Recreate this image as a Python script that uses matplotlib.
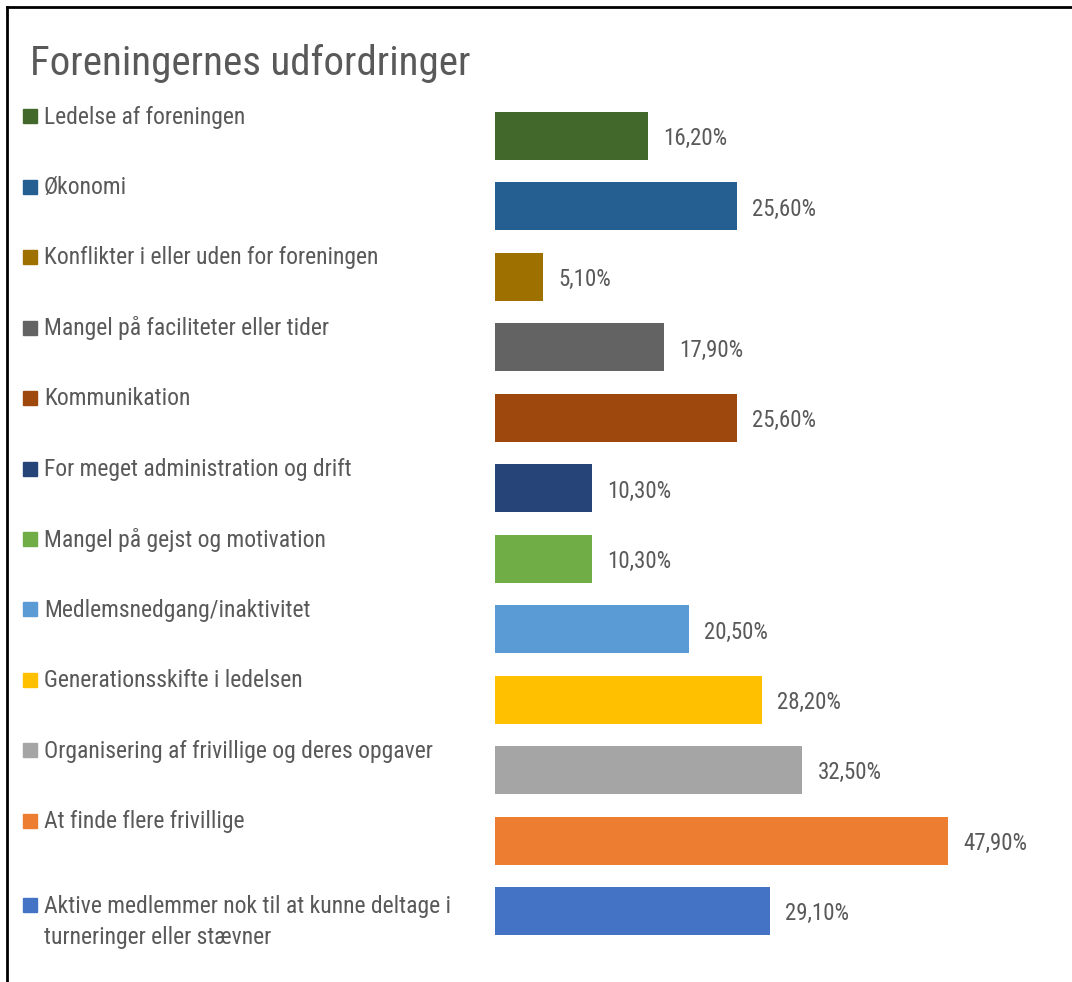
import matplotlib
matplotlib.use("Agg")
import matplotlib.pyplot as plt
import matplotlib.transforms as mtransforms

plt.rcParams['font.family'] = ['Roboto Condensed', 'Archivo Narrow', 'DejaVu Sans']

title = "Foreningernes udfordringer"
categories = [
    "Ledelse af foreningen",
    "Økonomi",
    "Konflikter i eller uden for foreningen",
    "Mangel på faciliteter eller tider",
    "Kommunikation",
    "For meget administration og drift",
    "Mangel på gejst og motivation",
    "Medlemsnedgang/inaktivitet",
    "Generationsskifte i ledelsen",
    "Organisering af frivillige og deres opgaver",
    "At finde flere frivillige",
    "Aktive medlemmer nok til at kunne deltage i\nturneringer eller stævner",
]
values = [16.2, 25.6, 5.1, 17.9, 25.6, 10.3, 10.3, 20.5, 28.2, 32.5, 47.9, 29.1]
colors = ["#43682B", "#255E91", "#9E7000", "#636363", "#9E480E", "#264478",
          "#70AD47", "#5B9BD5", "#FFC000", "#A5A5A5", "#ED7D31", "#4472C4"]

W, H = 1072, 982
fig = plt.figure(figsize=(W / 100, H / 100), dpi=100)

# axes placed in pixel terms: bars start at x=495, row centres 136 .. 911
px_per_pct = 9.46
row_h = 70.4
top_px = 136 - row_h / 2
bot_px = 911 + row_h / 2
ax = fig.add_axes([495 / W, 1 - bot_px / H, (W - 495) / W, (bot_px - top_px) / H])
ax.set_xlim(0, (W - 495) / px_per_pct)
ax.set_ylim(len(values) - 0.5, -0.5)
ax.axis("off")

ypos = list(range(len(values)))
ax.barh(ypos, values, height=48 / row_h, color=colors)

text_col = "#595959"
for y, v in zip(ypos, values):
    ax.text(v + 15 / px_per_pct, y + 0.04, f"{v:.2f}".replace(".", ",") + "%",
            va="center", ha="left", fontsize=16.5, color=text_col)

trans = mtransforms.blended_transform_factory(fig.transFigure, ax.transData)
for y, lab, c in zip(ypos, categories, colors):
    two = "\n" in lab
    ly = y + 0.16 if two else y - 0.27
    ax.plot([29.5 / W], [ly - (0.24 if two else 0.01)], marker="s", markersize=10.5,
            color=c, transform=trans, clip_on=False)
    ax.text(44 / W, ly, lab, transform=trans, va="center", ha="left",
            fontsize=17, color=text_col, linespacing=1.42)

fig.text(30 / W, 1 - 63 / H, title, fontsize=29.5, color=text_col, va="center", ha="left")

# frame lines on the top and left edge
fig.add_artist(plt.Line2D([6.5 / W, 1], [1 - 6.5 / H, 1 - 6.5 / H], color="black", lw=2,
                          transform=fig.transFigure))
fig.add_artist(plt.Line2D([6.5 / W, 6.5 / W], [0, 1 - 6.5 / H], color="black", lw=2,
                          transform=fig.transFigure))

fig.savefig("out.png", dpi=100)
